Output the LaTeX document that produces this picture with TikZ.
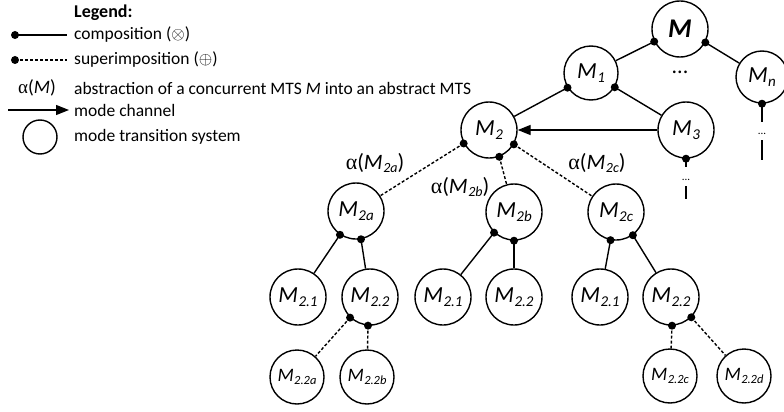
\documentclass[tikz,border=0pt]{standalone}
\usepackage{fontspec}
\setmainfont{Carlito}
\newfontfamily\greekfont{Liberation Serif}
\usetikzlibrary{arrows.meta}

% italic M with a lowered italic index
\newcommand{\Mi}[2][15]{\textit{M}\kern0.5pt\raisebox{-0.35ex}{\fontsize{#1}{#1}\selectfont\itshape #2}}
\newcommand{\abst}[1]{{\greekfont α}(\Mi[14]{#1})}

\tikzset{
  mts/.style={circle, draw, line width=1.4pt, inner sep=0pt, minimum size=56pt,
              font=\fontsize{23}{25}\selectfont},
  leafmts/.style={mts, minimum size=54pt, font=\fontsize{19}{21}\selectfont},
  comp/.style={line width=1.4pt},
  sup/.style={line width=1.4pt, dash pattern=on 3pt off 2pt},
  chan/.style={line width=1.4pt, -{Triangle[length=13pt,width=10pt]}},
  legtext/.style={anchor=west, font=\fontsize{17.5}{20}\selectfont, inner sep=0pt},
  lbl/.style={font=\fontsize{22}{24}\selectfont, inner sep=0pt},
  joint/.style={fill=black},
}

\begin{document}
\begin{tikzpicture}[x=1pt, y=-1pt]
\useasboundingbox (0,0) rectangle (784,412);

% ---------- legend ----------
\node[legtext, font=\fontsize{18}{20}\selectfont\bfseries] (legtitle) at (74,13) {Legend:};
\coordinate (lc1) at (15,35);  \coordinate (lc2) at (67,35);
\coordinate (ls1) at (15,60);  \coordinate (ls2) at (67,60);
\coordinate (la1) at (8,110);  \coordinate (la2) at (69,110);
\draw[comp] (lc1) -- (lc2);
\fill[joint] (lc1) circle (4pt);
\draw[sup] (ls1) -- (ls2);
\fill[joint] (ls1) circle (4pt);
\draw[chan] (la1) -- (la2);
\node[circle, draw, line width=1.4pt, minimum size=34pt, inner sep=0pt] (legmts) at (40,137) {};
\node[lbl, font=\fontsize{19}{21}\selectfont] (legalpha) at (37,88) {{\greekfont α}(\textit{M})};
\node[legtext] (t1) at (74,35) {composition ($\otimes$)};
\node[legtext] (t2) at (74,60) {superimposition ($\oplus$)};
\node[legtext] (t3) at (74,88) {abstraction of a concurrent MTS \textit{M} into an abstract MTS};
\node[legtext] (t4) at (74,110) {mode channel};
\node[legtext] (t5) at (74,137) {mode transition system};

% ---------- tree ----------
\node[mts, font=\fontsize{27}{29}\selectfont\bfseries\itshape] (M) at (680,29) {M};
\node[mts, minimum size=54pt] (M1) at (591,73) {\Mi{1}};
\node[mts, minimum size=52pt] (Mn) at (762,77) {\Mi{n}};
\node[lbl] (dots) at (680,72) {...};
\node[mts] (M2) at (489,130) {\Mi{2}};
\node[mts] (M3) at (686,130) {\Mi{3}};

\node[mts] (M2a) at (356,211) {\Mi{2a}};
\node[mts] (M2b) at (514,212) {\Mi{2b}};
\node[mts] (M2c) at (616,212) {\Mi{2c}};

\node[mts] (M21a) at (298,297) {\Mi{2.1}};
\node[mts] (M22a) at (370,297) {\Mi{2.2}};
\node[mts] (M21b) at (443,297) {\Mi{2.1}};
\node[mts] (M22b) at (514,297) {\Mi{2.2}};
\node[mts] (M21c) at (600,297) {\Mi{2.1}};
\node[mts] (M22c) at (671,297) {\Mi{2.2}};

\node[leafmts] (M22aa) at (297,377) {\Mi[12.5]{2.2a}};
\node[leafmts] (M22ab) at (367,377) {\Mi[12.5]{2.2b}};
\node[leafmts] (M22cc) at (670,376) {\Mi[12.5]{2.2c}};
\node[leafmts] (M22cd) at (744,376) {\Mi[12.5]{2.2d}};

% abstraction labels
\node[lbl] (alA) at (375,163) {\abst{2a}};
\node[lbl] (alB) at (460,187) {\abst{2b}};
\node[lbl] (alC) at (597,163) {\abst{2c}};

% compositions
\draw[comp] (M.206) -- (M1);
\draw[comp] (M.-28) -- (Mn);
\draw[comp] (M1.212) -- (M2);
\draw[comp] (M1.-31) -- (M3);
\draw[comp] (M2a.236) -- (M21a);
\draw[comp] (M2a.280) -- (M22a);
\draw[comp] (M2b.226) -- (M21b);
\draw[comp] (M2b.270) -- (M22b);
\draw[comp] (M2c.259) -- (M21c);
\draw[comp] (M2c.306) -- (M22c);

% superimpositions
\draw[sup] (M2.208) -- (M2a);
\draw[sup] (M2.-69) -- (M2b);
\draw[sup] (M2.-30) -- (M2c);
\draw[sup] (M22a.226) -- (M22aa);
\draw[sup] (M22a.266) -- (M22ab);
\draw[sup] (M22c.272) -- (M22cc);
\draw[sup] (M22c.315) -- (M22cd);

% mode channel
\draw[chan] (M3) -- (M2);

% continuations below M3 and Mn
\coordinate (c3a) at (686,167);
\coordinate (c3b) at (686,186);
\coordinate (c3c) at (686,199);
\node[inner sep=0pt, font=\fontsize{11}{12}\selectfont] (d3) at (686,180) {...};
\draw[comp] (M3.south) -- (c3a);
\draw[comp] (c3b) -- (c3c);
\coordinate (cna) at (762,122);
\coordinate (cnb) at (762,140);
\coordinate (cnc) at (762,160);
\node[inner sep=0pt, font=\fontsize{11}{12}\selectfont] (dn) at (762,134) {...};
\draw[comp] (Mn.south) -- (cna);
\draw[comp] (cnb) -- (cnc);

% joints
\foreach \p in {M.206, M.-28, M1.212, M1.-31, M2.208, M2.-69, M2.-30, M3.south, Mn.south,
                M2a.236, M2a.280, M2b.226, M2b.270, M2c.259, M2c.306,
                M22a.226, M22a.266, M22c.272, M22c.315}
  \fill[joint] (\p) circle (4pt);
\end{tikzpicture}
\end{document}
